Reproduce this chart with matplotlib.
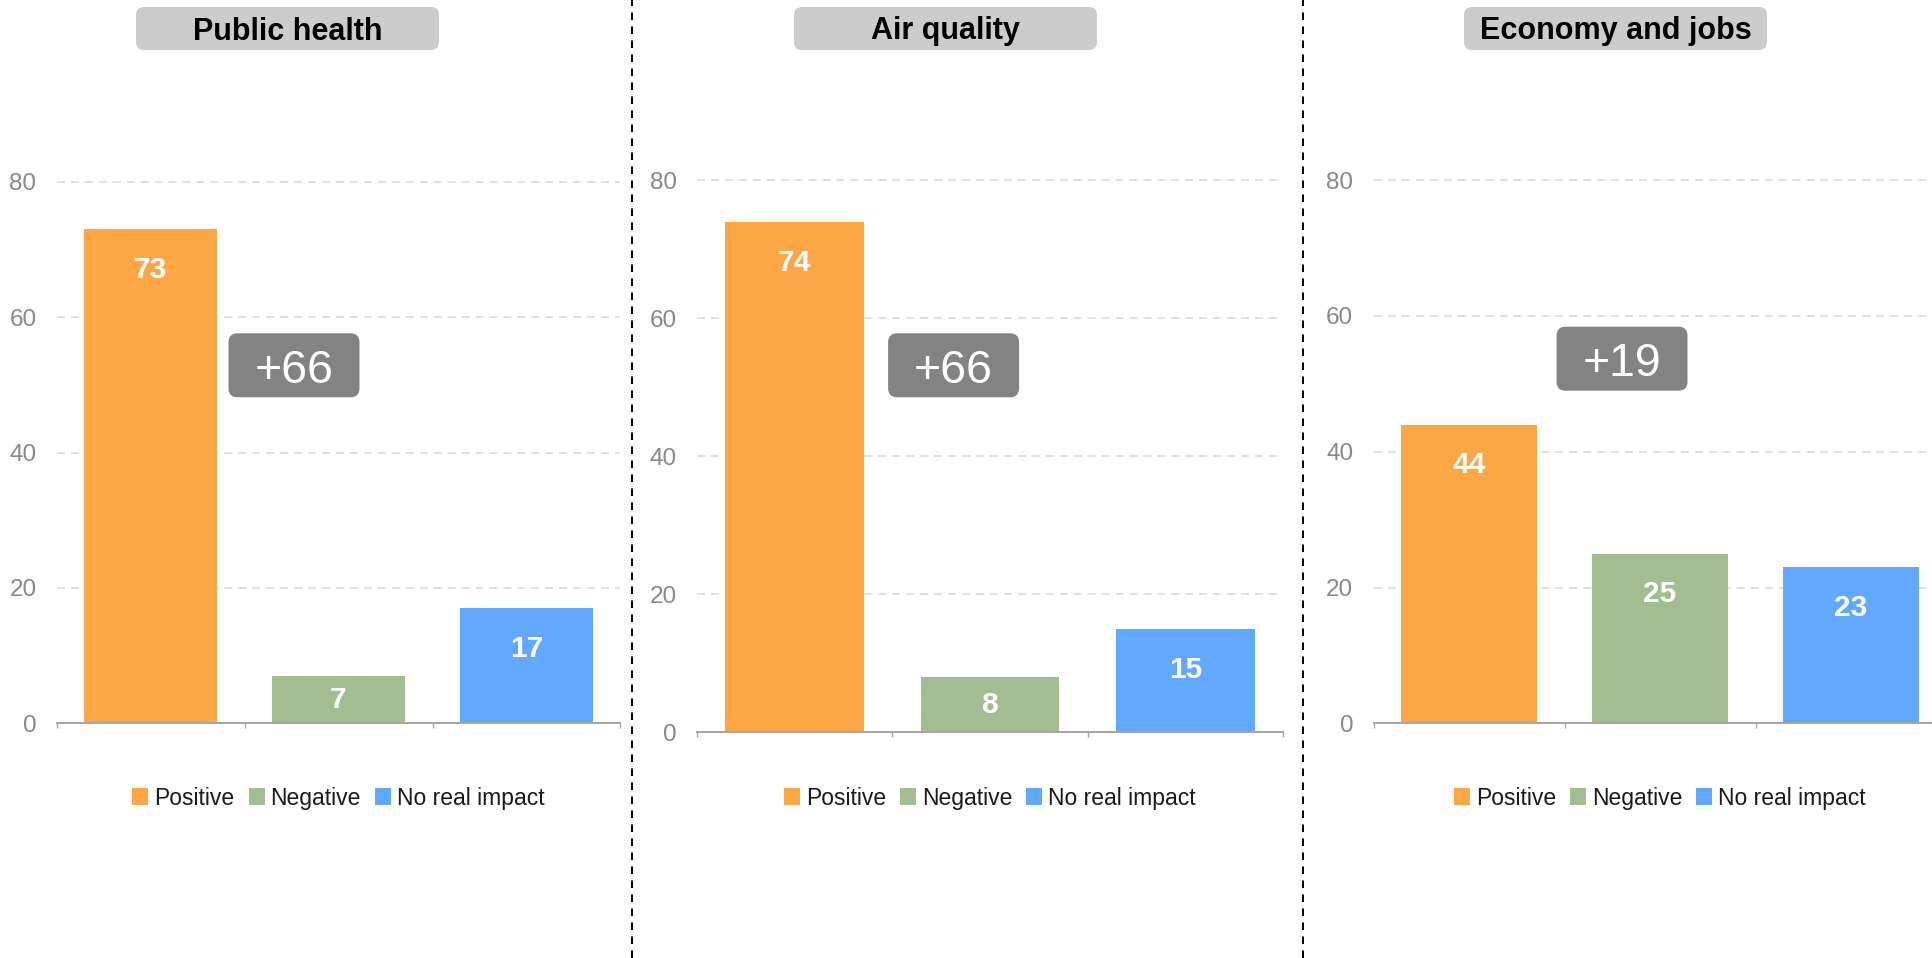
import matplotlib
matplotlib.use("Agg")
import matplotlib.pyplot as plt
from matplotlib.patches import FancyBboxPatch, Patch
from matplotlib.lines import Line2D
from matplotlib.transforms import Affine2D
from matplotlib import font_manager as fm

# ---------------- data ----------------
categories = ["Positive", "Negative", "No real impact"]
panel_titles = ["Public health", "Air quality", "Economy and jobs"]
public_health = [73, 7, 17]
air_quality = [74, 8, 15]
economy_jobs = [44, 25, 23]
y_ticks = [0, 20, 40, 60, 80]
colors = ["#FDA646", "#A2BD8F", "#62A8FC"]

series = [public_health, air_quality, economy_jobs]

# ---------------- layout ----------------
W, H = 1933, 958
DPI = 100
YMAX = 90
fig = plt.figure(figsize=(W / DPI, H / DPI), dpi=DPI)
fig.patch.set_facecolor("white")
px = Affine2D().scale(1 / DPI) + fig.dpi_scale_trans  # pixel coords, origin bottom-left

names = {f.name for f in fm.fontManager.ttflist}
has_narrow = "Liberation Sans Narrow" in names
BASE = ["Liberation Sans", "DejaVu Sans"]
NARROW = (["Liberation Sans Narrow"] + BASE) if has_narrow else BASE
if has_narrow:
    FS_TICK, FS_VAL, FS_LEG = 19, 23, 19.5
else:
    FS_TICK, FS_VAL, FS_LEG = 17.5, 21.5, 16.5

panels = [
    dict(L=56.6, R=620.5, B=723.3, ppu=6.77, title_cx=287.5, delta_c=(294, 365.3)),
    dict(L=696.8, R=1283.0, B=732.3, ppu=6.90, title_cx=945.5, delta_c=(953.6, 365.3)),
    dict(L=1373.5, R=1946.5, B=723.3, ppu=6.79, title_cx=1615.5, delta_c=(1622, 358.7)),
]

TITLE_W, TITLE_H, TITLE_CY = 303, 43, 28.5
DELTA_W, DELTA_H = 131, 64
LEGEND_CY = 798.3
AX_COLOR = "#A6A6A6"

for p, title, vals in zip(panels, panel_titles, series):
    L, R, B, ppu = p["L"], p["R"], p["B"], p["ppu"]
    ax = fig.add_axes([L / W, 1 - B / H, (R - L) / W, YMAX * ppu / H])
    x = list(range(len(categories)))
    ax.bar(x, vals, width=0.71, color=colors, zorder=2)
    ax.set_xlim(-0.5, len(categories) - 0.5)
    ax.set_ylim(0, YMAX)

    for s in ("top", "right", "left"):
        ax.spines[s].set_visible(False)
    ax.spines["bottom"].set_color(AX_COLOR)
    ax.spines["bottom"].set_linewidth(1.44)
    ax.spines["bottom"].set_zorder(3)

    ax.set_xticks([])
    ax.set_xticks([i - 0.5 for i in range(len(categories) + 1)], minor=True)
    ax.tick_params(axis="x", which="minor", length=3.8, width=1.0,
                   color=AX_COLOR, direction="out")
    ax.set_yticks(y_ticks)
    ax.tick_params(axis="y", length=0, pad=14.5, labelcolor="#888888",
                   labelsize=FS_TICK)
    for lbl in ax.get_yticklabels():
        lbl.set_family(NARROW)
    ax.yaxis.grid(True, color="#D6D6D6", linewidth=1.08, linestyle=(0, (5.3, 4)))
    ax.set_axisbelow(True)

    for i, v in zip(x, vals):
        ax.text(i, v - min(6, v / 2), str(v), ha="center", va="center",
                color="white", fontweight="bold", fontsize=FS_VAL,
                family=NARROW, zorder=4)

    # legend
    handles = [Patch(facecolor=c, edgecolor="none") for c in colors]
    fs_px = FS_LEG * DPI / 72
    ax.legend(handles, categories, loc="center",
              bbox_to_anchor=((L + R) / 2, H - LEGEND_CY), bbox_transform=px,
              ncol=3, frameon=False,
              prop=dict(family=NARROW, size=FS_LEG),
              handlelength=16 / fs_px, handleheight=17 / fs_px,
              handletextpad=6 / fs_px, columnspacing=14 / fs_px,
              borderpad=0, borderaxespad=0, labelcolor="#1a1a1a")

    # title box
    cx = p["title_cx"]
    fig.add_artist(FancyBboxPatch((cx - TITLE_W / 2, H - TITLE_CY - TITLE_H / 2),
                                  TITLE_W, TITLE_H,
                                  boxstyle="round,pad=0,rounding_size=8",
                                  transform=px, facecolor="#CCCCCC", edgecolor="none"))
    tfs = 22
    fig.text(cx, H - TITLE_CY - 0.36 * tfs * DPI / 72, title, transform=px,
             ha="center", va="baseline", fontsize=tfs, fontweight="bold",
             family=BASE, color="black")

    # delta box
    dcx, dcy = p["delta_c"]
    fig.add_artist(FancyBboxPatch((dcx - DELTA_W / 2, H - dcy - DELTA_H / 2),
                                  DELTA_W, DELTA_H,
                                  boxstyle="round,pad=0,rounding_size=9",
                                  transform=px, facecolor="#838383", edgecolor="none"))
    dfs = 33.5
    fig.text(dcx, H - dcy - 0.37 * dfs * DPI / 72, f"+{vals[0] - vals[1]}",
             transform=px, ha="center", va="baseline", fontsize=dfs,
             family=BASE, color="white")

# dashed dividers
for xd in (631.5, 1303.0):
    fig.add_artist(Line2D([xd, xd], [0, H], transform=px, color="black",
                          linewidth=1.44, linestyle=(0, (3.75, 3.25))))

fig.savefig("out.png", dpi=DPI, facecolor="white")
